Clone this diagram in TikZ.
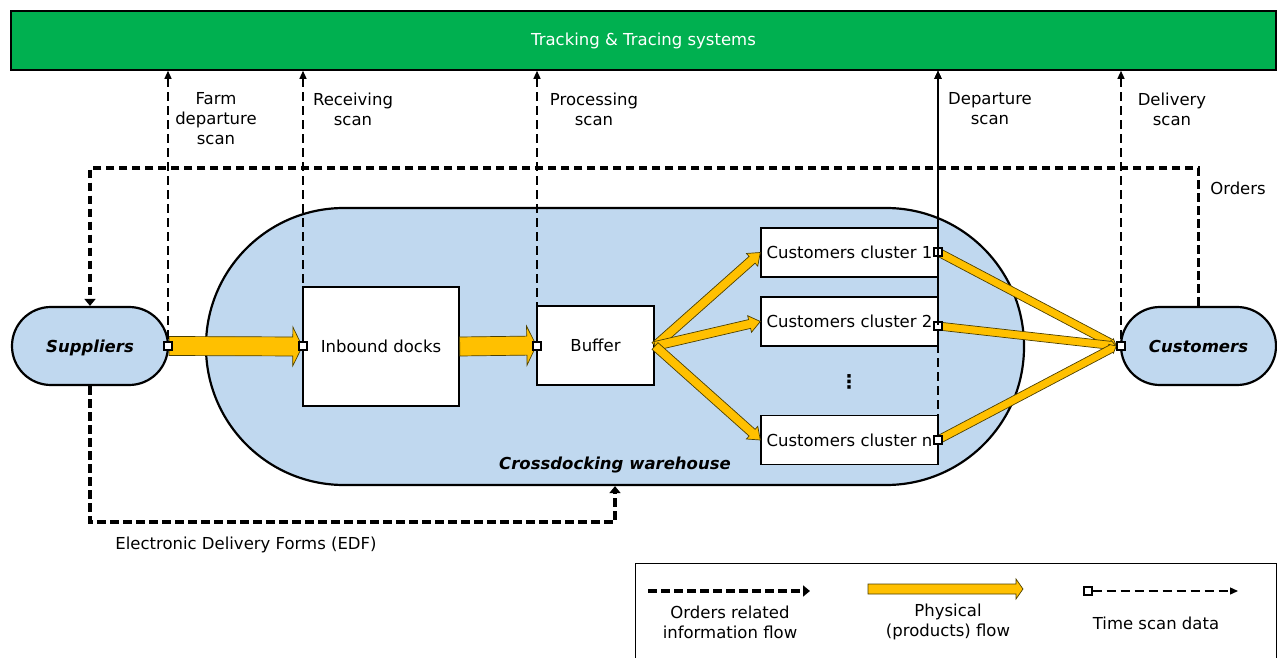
\documentclass[tikz,border=0pt]{standalone}
\usepackage{fontspec}
\setmainfont{DejaVu Sans}
\usetikzlibrary{arrows.meta,calc}

\definecolor{trackgreen}{HTML}{00B050}
\definecolor{zoneblue}{HTML}{C0D8EF}
\definecolor{flowfill}{HTML}{FFC000}
\definecolor{flowedge}{HTML}{4D4000}

% yellow block arrow: [options]{from}{to}{shaft half width}{head half width}{head length}
\newcommand\flowarrow[6][]{%
  \coordinate (fa-h) at ($(#3)!#6!(#2)$);
  \draw[flowstyle,#1] ($(#2)!#4!90:(#3)$) -- ($(fa-h)!#4!90:(#3)$) -- ($(fa-h)!#5!90:(#3)$)
    -- (#3) -- ($(fa-h)!#5!-90:(#3)$) -- ($(fa-h)!#4!-90:(#3)$) -- ($(#2)!#4!-90:(#3)$) -- cycle;
}

\tikzset{
  flowstyle/.style={draw=flowedge, fill=flowfill, line width=0.7pt, line join=miter},
  stadium/.style={draw, fill=zoneblue, line width=2.2pt, inner sep=0pt, text depth=0pt,
    font=\fontsize{16.5}{20}\bfseries\itshape\selectfont},
  whitebox/.style={draw, fill=white, line width=1.4pt, inner sep=1pt},
  scanpt/.style={draw, fill=white, line width=1.3pt, minimum size=8pt, inner sep=0pt},
  scanline/.style={line width=1.3pt, dash pattern=on 9pt off 5pt,
    arrows={Triangle[length=8pt,width=7pt]-}},
  orderline/.style={line width=3.3pt, dash pattern=on 8.5pt off 4.5pt,
    -{Triangle[length=7pt,width=11pt]}},
  lbl/.style={align=center, inner sep=0pt},
}

\begin{document}
\begin{tikzpicture}[x=1pt, y=-1pt, font=\fontsize{16.5}{20}\selectfont]
\useasboundingbox (0,0) rectangle (1277,658);

% tracking system bar
\node[draw, fill=trackgreen, line width=1.6pt, minimum width=1265pt, minimum height=59pt,
  inner sep=0pt, text=white] (track) at (643.5,40.5) {Tracking \& Tracing systems};

% warehouse and its contents
\node[stadium, minimum width=818pt, minimum height=277pt, rounded corners=138pt] (wh) at (615,346.5) {};
\node[font=\fontsize{16.5}{20}\bfseries\itshape\selectfont] (whlabel) at (615,465) {Crossdocking warehouse};

\node[stadium, minimum width=156pt, minimum height=78pt, rounded corners=38.9pt] (sup) at (90,346) {Suppliers};
\node[stadium, minimum width=155pt, minimum height=78pt, rounded corners=38.9pt] (cus) at (1198.5,346) {Customers};

\node[whitebox, minimum width=156pt, minimum height=119pt] (inb) at (381,346.5) {Inbound docks};
\node[whitebox, minimum width=117pt, minimum height=79pt] (buf) at (595.5,345.5) {Buffer};
\node[whitebox, minimum width=177pt, minimum height=49pt] (c1) at (849.5,252.5) {Customers cluster 1};
\node[whitebox, minimum width=177pt, minimum height=49pt] (c2) at (849.5,321.5) {Customers cluster 2};
\node[whitebox, minimum width=177pt, minimum height=49pt] (cn) at (849.5,440) {Customers cluster n};
\node[inner sep=0pt, font=\fontsize{19}{20}\bfseries\selectfont] (dots) at (849,382) {⋮};

% physical flow
\coordinate (bufout) at (655,346);
\flowarrow{sup.east}{inb.west}{9.5pt}{19.5pt}{9.5pt}
\flowarrow{inb.east}{buf.west}{9.5pt}{19.5pt}{9.5pt}
\flowarrow{bufout}{c1.west}{4.5pt}{8.5pt}{11pt}
\flowarrow{bufout}{c2.west}{4.5pt}{8.5pt}{11pt}
\flowarrow{bufout}{cn.west}{4.5pt}{8.5pt}{11pt}

% scan points
\node[scanpt] (m-sup) at (168,346) {};
\node[scanpt] (m-inb) at (303,346) {};
\node[scanpt] (m-buf) at (537,346) {};
\node[scanpt] (m-c1) at (938,252) {};
\node[scanpt] (m-c2) at (938,326) {};
\node[scanpt] (m-cn) at (938,440) {};
\node[scanpt] (m-cus) at (1121,346) {};

\flowarrow{m-c1.center}{m-cus.west}{4pt}{5pt}{6pt}
\flowarrow{m-c2.center}{m-cus.west}{4pt}{5pt}{6pt}
\flowarrow{m-cn.center}{m-cus.west}{4pt}{5pt}{6pt}
\node[scanpt] at (m-c1) {};
\node[scanpt] at (m-c2) {};
\node[scanpt] at (m-cn) {};
\node[scanpt] at (m-cus) {};

% time scan data
\draw[scanline] (track.south -| m-sup) -- (m-sup.north);
\draw[scanline] (track.south -| m-inb) -- (m-inb.north);
\draw[scanline] (track.south -| m-buf) -- (m-buf.north);
\draw[scanline] (track.south -| m-cn) -- (m-cn.north);
\draw[scanline, dash phase=7pt] (track.south -| m-c2) -- (m-c2.north);
\draw[scanline, dash phase=3pt] (track.south -| m-c1) -- (m-c1.north);
\draw[scanline] (track.south -| m-cus) -- (m-cus.north);

\node[lbl] (l-farm) at (216,119) {Farm\\departure\\scan};
\node[lbl] (l-rec) at (353,109) {Receiving\\scan};
\node[lbl] (l-proc) at (594,109) {Processing\\scan};
\node[lbl] (l-dep) at (990,109) {Departure\\scan};
\node[lbl] (l-del) at (1172,109) {Delivery\\scan};

% orders related information flow
\coordinate (ord-l) at (90,168);
\coordinate (edf-r) at (615,522);
\draw[orderline] (cus.north) |- (ord-l) -- (sup.north);
\draw[orderline] (sup.south) |- (edf-r) -- (wh.south);
\node[lbl] (l-ord) at (1238,188) {Orders};
\node[lbl] (l-edf) at (246,545) {Electronic Delivery Forms (EDF)};

% legend
\node[draw, line width=1pt, minimum width=641pt, minimum height=120pt, anchor=north west,
  inner sep=0pt] (legend) at (635,563) {};
\coordinate (lg-o1) at (648,591);
\coordinate (lg-o2) at (810,591);
\draw[orderline] (lg-o1) -- (lg-o2);
\node[lbl] (lg-ot) at (730,622) {Orders related\\information flow};
\coordinate (lg-p1) at (868,589);
\coordinate (lg-p2) at (1023,589);
\flowarrow{lg-p1}{lg-p2}{5pt}{10pt}{7pt}
\node[lbl] (lg-pt) at (948,622) {Physical\\(products) flow};
\node[scanpt] (lg-s1) at (1088,591) {};
\coordinate (lg-s2) at (1238,591);
\draw[scanline, arrows={-Triangle[length=8pt,width=7pt]}] (lg-s1.east) -- (lg-s2);
\node[lbl] (lg-st) at (1156,623) {Time scan data};
\end{tikzpicture}
\end{document}
